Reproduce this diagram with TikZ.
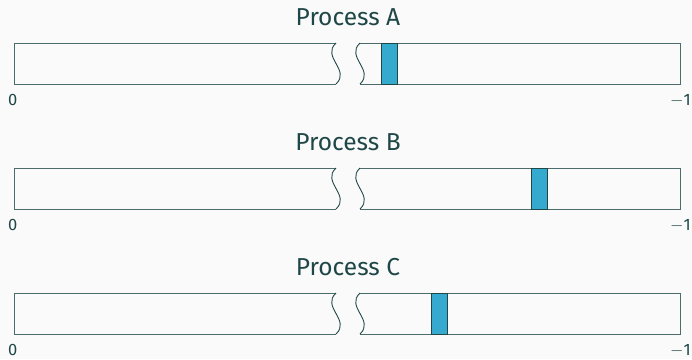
\documentclass[tikz,border=0pt]{standalone}
\usepackage{fontspec}
\setmainfont{Fira Sans}
\definecolor{bg}{HTML}{FAFAFA}
\definecolor{teal}{HTML}{1F4747}
\definecolor{mark}{HTML}{35A9CE}
\begin{document}
\begin{tikzpicture}[x=1pt,y=-1pt,
  barline/.style={draw=teal!80, line width=1pt},
  wave/.style={draw=teal, line width=0.9pt},
  marker/.style={draw=teal, line width=0.9pt, fill=mark},
  title/.style={text=teal, font=\fontsize{24.5}{28}\selectfont, inner sep=0pt, anchor=base},
  axlabel/.style={text=teal, font=\fontsize{16.5}{18}\selectfont, inner sep=0pt}]
\fill[bg] (0,0) rectangle (692,359);
\useasboundingbox (0,0) rectangle (692,359);
\foreach \name/\y/\m in {A/43/381, B/168/531, C/293/431}{
  \pgfmathsetmacro{\yb}{\y+41}
  \node[title] (title\name) at (348,\y-17.5) {Process \name};
  \draw[barline] (336,\y) -- (14,\y) -- (14,\yb) -- (336,\yb);
  \draw[barline] (360,\y) -- (680,\y) -- (680,\yb) -- (360,\yb);
  \draw[wave] (336,\y) .. controls (321,\y+14) and (351,\y+27) .. (336,\yb);
  \draw[wave] (360,\y) .. controls (345,\y+14) and (375,\y+27) .. (360,\yb);
  \draw[marker] (\m,\y) rectangle (\m+16.5,\yb);
  \node[axlabel, anchor=base west] (zero\name) at (8,\yb+21.5) {0};
  \node[axlabel, anchor=base east] (one\name) at (691,\yb+21.5) {$-$1};
}
\end{tikzpicture}
\end{document}
